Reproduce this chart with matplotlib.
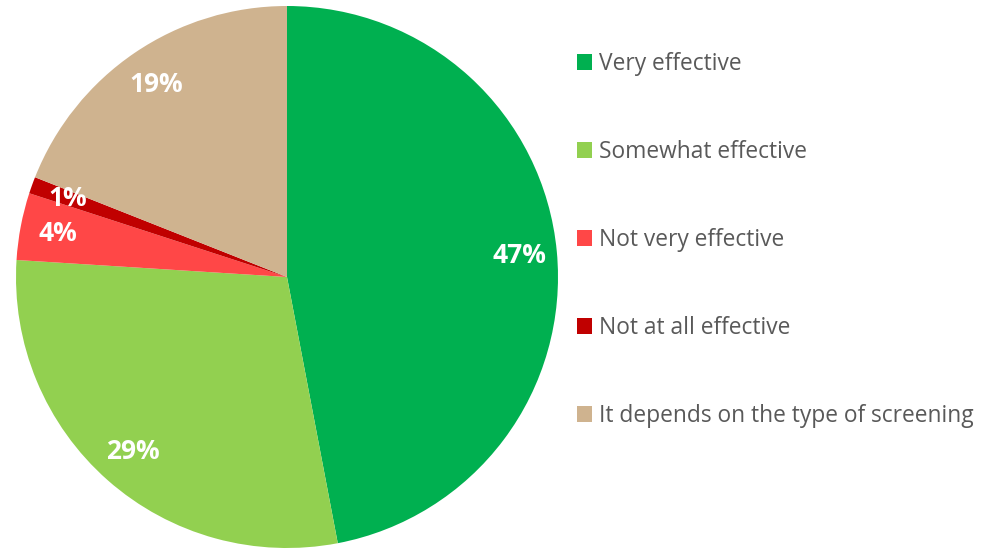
import numpy as np
import matplotlib
matplotlib.use("Agg")
import matplotlib.pyplot as plt
from matplotlib.patches import Patch

labels = ["Very effective", "Somewhat effective", "Not very effective",
          "Not at all effective", "It depends on the type of screening"]
values = [47, 29, 4, 1, 19]
colors = ["#00B050", "#92D050", "#FF4747", "#C00000", "#CFB38F"]

plt.rcParams['font.family'] = ['Open Sans', 'DejaVu Sans']

fig = plt.figure(figsize=(9.83, 5.49), dpi=100)
W, H = 983, 549
cx, cy, r = 287, 272, 271
ax = fig.add_axes([(cx - r) / W, (cy - r) / H, 2 * r / W, 2 * r / H])

wedges, texts = ax.pie(values, colors=colors, startangle=90, counterclock=False,
                       radius=1.0, wedgeprops=dict(linewidth=0))
for w, v in zip(wedges, values):
    ang = np.deg2rad((w.theta1 + w.theta2) / 2)
    ax.text(0.86 * np.cos(ang), 0.86 * np.sin(ang), f"{v}%", ha="center", va="center",
            color="white", fontsize=19, fontweight="bold")
ax.set_xlim(-1, 1)
ax.set_ylim(-1, 1)
ax.set_aspect("equal")
ax.axis("off")

handles = [Patch(facecolor=c, edgecolor="none") for c in colors]
fig.legend(handles, labels, loc="upper left", bbox_to_anchor=(577 / W, 1 - 52 / H),
           frameon=False, fontsize=16.4, labelcolor="#595959", labelspacing=2.81,
           handlelength=0.66, handleheight=0.66, handletextpad=0.3, borderaxespad=0,
           borderpad=0)

fig.savefig("out.png", dpi=100)
